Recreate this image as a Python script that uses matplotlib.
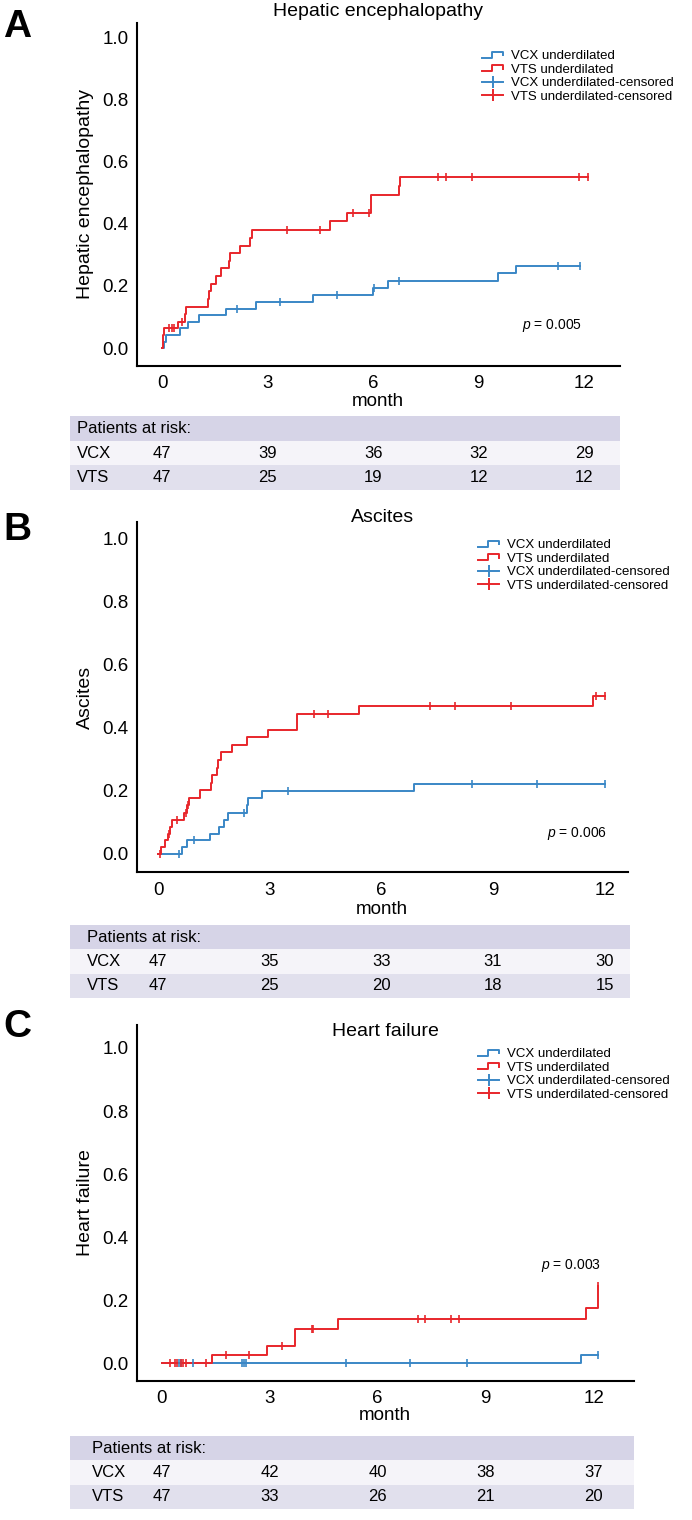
import numpy as np
import matplotlib
matplotlib.use("Agg")
import matplotlib.pyplot as plt
from matplotlib.lines import Line2D
from matplotlib.legend_handler import HandlerBase
import matplotlib.transforms as mtransforms

plt.rcParams['font.family'] = ['Liberation Sans', 'DejaVu Sans']
plt.rcParams['mathtext.fontset'] = 'custom'
plt.rcParams['mathtext.it'] = 'Liberation Sans:italic'
plt.rcParams['mathtext.rm'] = 'Liberation Sans'

BLUE = '#3a87c6'
RED = '#e8262b'

# ---- data (months, cumulative incidence) ----
risk_months = [0, 3, 6, 9, 12]

# A: hepatic encephalopathy
a_vcx_t = [0.06, 0.11, 0.50, 0.74, 1.05, 1.81, 2.65, 4.29, 6.00, 6.43, 9.56, 10.05]
a_vcx_y = [0.021, 0.043, 0.064, 0.085, 0.106, 0.127, 0.147, 0.170, 0.192, 0.215, 0.241, 0.264]
a_vcx_cens = [2.13, 3.35, 4.97, 6.02, 6.73, 11.26, 11.87]
a_vts_t = [0.02, 0.03, 0.05, 0.44, 0.63, 0.66, 1.29, 1.33, 1.38, 1.53, 1.67, 1.90, 1.93,
           2.21, 2.48, 2.55, 4.77, 5.26, 5.94, 6.73, 6.76]
a_vts_y = [0.021, 0.043, 0.064, 0.085, 0.109, 0.133, 0.158, 0.183, 0.207, 0.232, 0.257,
           0.282, 0.307, 0.330, 0.355, 0.379, 0.408, 0.434, 0.494, 0.523, 0.553]
a_vts_cens = [0.20, 0.27, 0.34, 0.57, 3.54, 4.49, 5.41, 5.89, 7.84, 8.06, 8.81, 11.86, 12.12]
a_vcx_risk = [47, 39, 36, 32, 29]
a_vts_risk = [47, 25, 19, 12, 12]

# B: ascites
b_vcx_t = [0.65, 0.76, 1.39, 1.64, 1.78, 1.88, 2.39, 2.40, 2.80, 6.88]
b_vcx_y = [0.021, 0.043, 0.064, 0.086, 0.108, 0.131, 0.154, 0.177, 0.200, 0.222]
b_vcx_cens = [0.57, 0.96, 2.31, 3.48, 8.44, 10.18, 12.01]
b_vts_t = [0.06, 0.17, 0.25, 0.31, 0.37, 0.69, 0.76, 0.82, 1.12, 1.41, 1.45, 1.57, 1.61,
           1.70, 1.97, 2.38, 2.95, 3.74, 5.40, 11.68]
b_vts_y = [0.021, 0.043, 0.064, 0.085, 0.108, 0.131, 0.155, 0.178, 0.202, 0.226, 0.249,
           0.273, 0.298, 0.322, 0.345, 0.369, 0.393, 0.443, 0.469, 0.500]
b_vts_cens = [0.04, 0.29, 0.50, 0.74, 0.81, 4.19, 4.56, 7.30, 7.98, 9.49, 11.78, 12.01]
b_vcx_risk = [47, 35, 33, 31, 30]
b_vts_risk = [47, 25, 20, 18, 15]

# C: heart failure
c_vcx_t = [11.64]
c_vcx_y = [0.026]
c_vcx_cens = [0.48, 0.55, 0.88, 2.22, 2.28, 2.34, 5.11, 6.89, 8.49, 12.13]
c_vts_t = [1.39, 2.92, 3.70, 4.91, 11.78, 12.13]
c_vts_y = [0.026, 0.053, 0.108, 0.139, 0.174, 0.244]
c_vts_cens = [0.23, 0.37, 0.42, 0.53, 0.60, 0.68, 1.22, 1.80, 2.43, 3.34, 4.17, 4.19,
              7.13, 7.32, 8.03, 8.25, 12.13]
c_vcx_risk = [47, 42, 40, 38, 37]
c_vts_risk = [47, 33, 26, 21, 20]

W, H = 692, 1520
fig = plt.figure(figsize=(W / 100, H / 100), dpi=100)


def box(x0, y0, x1, y1):
    return [x0 / W, 1 - y1 / H, (x1 - x0) / W, (y1 - y0) / H]


def ftext(x, y, s, **kw):
    kw.setdefault('ha', 'center')
    kw.setdefault('va', 'center')
    fig.text(x / W, 1 - y / H, s, **kw)


class StepHandler(HandlerBase):
    def create_artists(self, legend, orig, xdescent, ydescent, width, height, fontsize, trans):
        xs = np.array([0, 0.45, 0.45, 1.0, 1.0]) * width - xdescent
        ys = np.array([0.15, 0.15, 0.8, 0.8, 0.45]) * height - ydescent
        ln = Line2D(xs, ys, color=orig.get_color(), lw=orig.get_linewidth())
        ln.set_transform(trans)
        return [ln]


def draw_curve(ax, t, y, cens, color):
    end = max(cens[-1], t[-1])
    xs = [0] + list(t) + [end]
    ys = [0] + list(y) + [y[-1]]
    ax.step(xs, ys, where='post', color=color, lw=1.4, zorder=3)
    tt = np.array([0] + list(t))
    yy = np.array([0] + list(y))
    cy = yy[np.searchsorted(tt, cens, side='right') - 1]
    ax.plot(cens, cy, ls='none', marker='|', ms=6, mew=1.2, color=color, zorder=4)


def panel(letter, title, ylab, axpx, xlim, ylim, vcx, vts, pval, ppos, legpos,
          tabpx, labx, risks, titley, monthy, lettery):
    ax = fig.add_axes(box(*axpx))
    draw_curve(ax, *vcx, BLUE)
    draw_curve(ax, *vts, RED)
    ax.set_xlim(*xlim)
    ax.set_ylim(*ylim)
    ax.set_xticks(risk_months)
    ax.set_yticks(np.arange(0, 1.01, 0.2))
    ax.set_yticklabels(['%.1f' % v for v in np.arange(0, 1.01, 0.2)])
    ax.tick_params(length=0, labelsize=13.5)
    ax.tick_params(axis='y', pad=6)
    ax.tick_params(axis='x', pad=7)
    for s in ['top', 'right']:
        ax.spines[s].set_visible(False)
    for s in ['left', 'bottom']:
        ax.spines[s].set_linewidth(1.5)

    handles = [Line2D([], [], color=BLUE, lw=1.4), Line2D([], [], color=RED, lw=1.4),
               Line2D([], [], color=BLUE, lw=1.4, marker='|', ms=9, mew=1.4),
               Line2D([], [], color=RED, lw=1.4, marker='|', ms=9, mew=1.4)]
    labels = ['VCX underdilated', 'VTS underdilated',
              'VCX underdilated-censored', 'VTS underdilated-censored']
    ax.legend(handles, labels, loc='upper left',
              bbox_to_anchor=(legpos[0] / W, 1 - legpos[1] / H),
              bbox_transform=fig.transFigure, frameon=False, fontsize=9.5,
              handlelength=1.6, handletextpad=0.6, labelspacing=0.1,
              borderpad=0, borderaxespad=0, numpoints=1,
              handler_map={handles[0]: StepHandler(), handles[1]: StepHandler()})

    ftext(ppos[0], ppos[1], '$p$ = ' + pval, ha='right', fontsize=10)

    cx = (axpx[0] + axpx[2]) / 2
    ftext(cx, titley, title, fontsize=14)
    ftext(cx, monthy, 'month', fontsize=13.5)
    ftext(85, (axpx[1] + axpx[3]) / 2, ylab, fontsize=14, rotation=90)
    ftext(17, lettery, letter, fontsize=28, fontweight='bold')

    # patients at risk table
    tax = fig.add_axes(box(*tabpx))
    tax.set_xlim(0, 1)
    tax.set_ylim(0, 3)
    tax.axis('off')
    tax.axhspan(2, 3, color='#d6d4e7', lw=0)
    tax.axhspan(1, 2, color='#f5f4f9', lw=0)
    tax.axhspan(0, 1, color='#e1e0ed', lw=0)
    lx = (labx - tabpx[0]) / (tabpx[2] - tabpx[0])
    tax.text(lx, 2.5, 'Patients at risk:', ha='left', va='center', fontsize=12)
    tr = mtransforms.blended_transform_factory(ax.transData, tax.transData)
    for row, name, vals in [(1.5, 'VCX', risks[0]), (0.5, 'VTS', risks[1])]:
        tax.text(lx, row, name, ha='left', va='center', fontsize=12)
        for m, v in zip(risk_months, vals):
            tax.text(m, row, str(v), ha='center', va='center', fontsize=12, transform=tr)
    return ax


panel('A', 'Hepatic encephalopathy', 'Hepatic encephalopathy',
      (136.7, 22.7, 620, 365.7), (-0.73, 13.02), (-0.057, 1.049),
      (a_vcx_t, a_vcx_y, a_vcx_cens), (a_vts_t, a_vts_y, a_vts_cens),
      '0.005', (582, 325), (482, 50),
      (70, 416, 620, 490), 77, (a_vcx_risk, a_vts_risk), 12, 402, 27)

panel('B', 'Ascites', 'Ascites',
      (136.7, 522, 628, 872.3), (-0.58, 12.63), (-0.058, 1.051),
      (b_vcx_t, b_vcx_y, b_vcx_cens), (b_vts_t, b_vts_y, b_vts_cens),
      '0.006', (607, 833), (478, 539),
      (70, 925, 630, 998), 87, (b_vcx_risk, b_vts_risk), 517, 909, 530)

panel('C', 'Heart failure', 'Heart failure',
      (136.7, 1025, 634, 1380.7), (-0.694, 13.12), (-0.056, 1.073),
      (c_vcx_t, c_vcx_y, c_vcx_cens), (c_vts_t, c_vts_y, c_vts_cens),
      '0.003', (601, 1265), (478, 1048),
      (70, 1436, 634, 1509), 92, (c_vcx_risk, c_vts_risk), 1031, 1416, 1027)

fig.savefig('out.png', dpi=100)
